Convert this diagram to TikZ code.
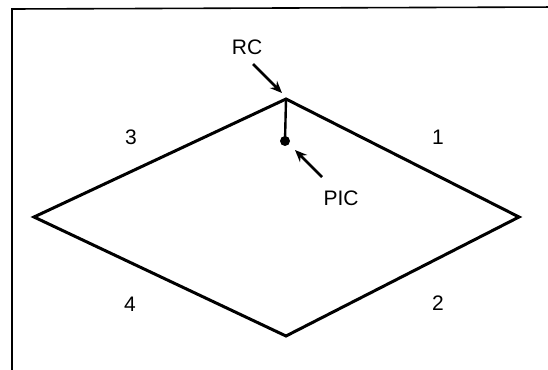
\documentclass[tikz,border=0pt]{standalone}
\usepackage{fontspec}
\setmainfont{Liberation Sans}
\usetikzlibrary{arrows.meta}
\begin{document}
\begin{tikzpicture}[x=1pt,y=-1pt,
  lbl/.style={inner sep=0pt,font=\fontsize{21}{24}\selectfont},
  edge/.style={line width=3pt,line join=miter},
  pointer/.style={line width=2.6pt,-{Stealth[length=12pt,width=10pt]}},
  frameline/.style={line width=1.6pt}]
\useasboundingbox (0,0) rectangle (548,369);
\fill[white] (0,0) rectangle (548,369);
% frame (only top and left visible)
\draw[frameline] (560,7) -- (12,9) -- (12,380);
% diamond
\coordinate (T) at (286,99);
\coordinate (R) at (519,217);
\coordinate (B) at (286,336);
\coordinate (L) at (34,217);
\draw[edge] (T) -- (R) -- (B) -- (L) -- cycle;
% PIC dot
\node[circle,fill=black,inner sep=0pt,minimum size=10pt] (pic) at (285,141) {};
\draw[line width=2.4pt] (T) -- (pic.center);
% labels
\node[lbl] (rc) at (247,47) {RC};
\node[lbl] (pl) at (341,198) {PIC};
\node[lbl] (q3) at (131,137) {3};
\node[lbl] (q1) at (438,137) {1};
\node[lbl] (q4) at (130,304) {4};
\node[lbl] (q2) at (438,303) {2};
% arrows
\coordinate (rcs) at (253,64);
\coordinate (rce) at (282,93);
\draw[pointer] (rcs) -- (rce);
\coordinate (pcs) at (322,177);
\coordinate (pce) at (295,150);
\draw[pointer] (pcs) -- (pce);
\end{tikzpicture}
\end{document}
